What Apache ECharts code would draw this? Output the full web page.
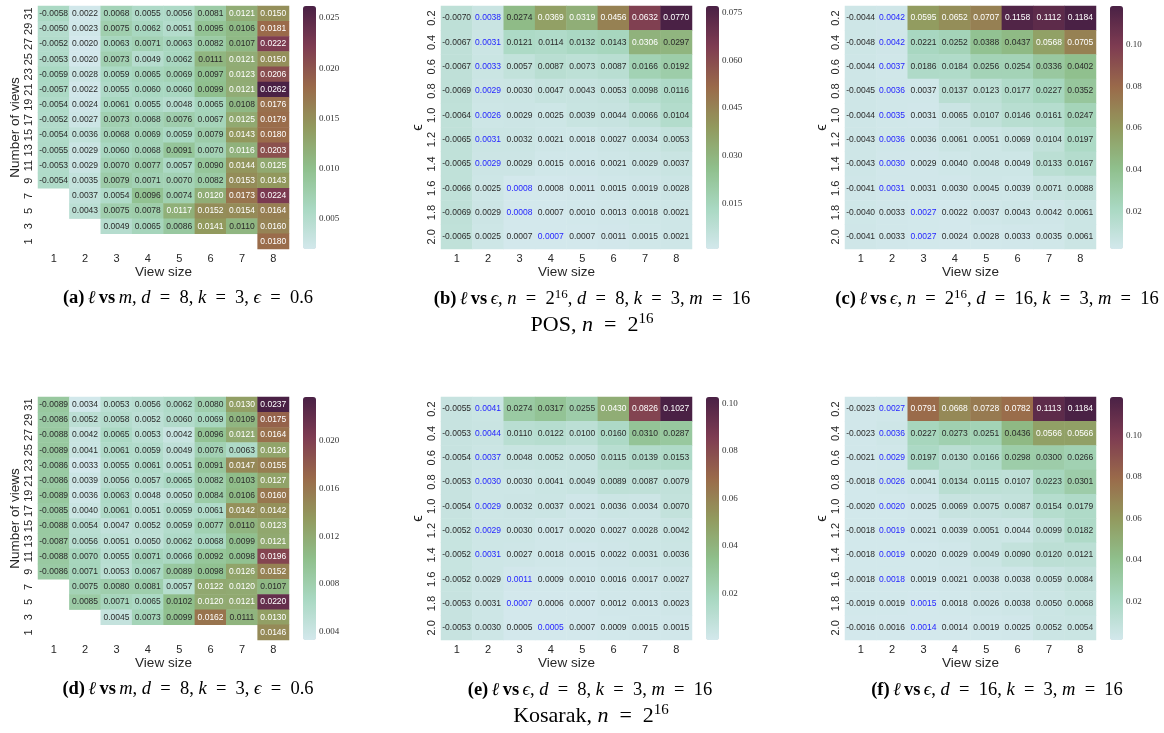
<!DOCTYPE html>
<html>
<head>
<meta charset="utf-8">
<script src="https://cdn.jsdelivr.net/npm/echarts@6/dist/echarts.min.js"></script>
<style>
html, body { margin: 0; padding: 0; background: #fff; }
#chart { width: 1164px; height: 733px; }
</style>
</head>
<body>
<div id="chart"></div>
<script>
// 坐标轴刻度
var viewSizes = ['1', '2', '3', '4', '5', '6', '7', '8'];
var viewCounts = ['31', '29', '27', '25', '23', '21', '19', '17', '15', '13', '11', '9', '7', '5', '3', '1'];
var epsValues = ['0.2', '0.4', '0.6', '0.8', '1.0', '1.2', '1.4', '1.6', '1.8', '2.0'];

// POS: 行从上到下
var posViews = [
    [-0.0058, 0.0022, 0.0068, 0.0055, 0.0056, 0.0081, 0.0121, 0.0150],
    [-0.0050, 0.0023, 0.0075, 0.0062, 0.0051, 0.0095, 0.0106, 0.0181],
    [-0.0052, 0.0020, 0.0063, 0.0071, 0.0063, 0.0082, 0.0107, 0.0222],
    [-0.0053, 0.0020, 0.0073, 0.0049, 0.0062, 0.0111, 0.0121, 0.0150],
    [-0.0059, 0.0028, 0.0059, 0.0065, 0.0069, 0.0097, 0.0123, 0.0206],
    [-0.0057, 0.0022, 0.0055, 0.0060, 0.0060, 0.0099, 0.0121, 0.0262],
    [-0.0054, 0.0024, 0.0061, 0.0055, 0.0048, 0.0065, 0.0108, 0.0176],
    [-0.0052, 0.0027, 0.0073, 0.0068, 0.0076, 0.0067, 0.0125, 0.0179],
    [-0.0054, 0.0036, 0.0068, 0.0069, 0.0059, 0.0079, 0.0143, 0.0180],
    [-0.0055, 0.0029, 0.0060, 0.0068, 0.0091, 0.0070, 0.0116, 0.0203],
    [-0.0053, 0.0029, 0.0070, 0.0077, 0.0057, 0.0090, 0.0144, 0.0125],
    [-0.0054, 0.0035, 0.0079, 0.0071, 0.0070, 0.0082, 0.0153, 0.0143],
    [null, 0.0037, 0.0054, 0.0096, 0.0074, 0.0120, 0.0173, 0.0224],
    [null, 0.0043, 0.0075, 0.0078, 0.0117, 0.0152, 0.0154, 0.0164],
    [null, null, 0.0049, 0.0065, 0.0086, 0.0141, 0.0110, 0.0160],
    [null, null, null, null, null, null, null, 0.0180]
];
var posEpsD8 = [
    [-0.0070, 0.0038, 0.0274, 0.0369, 0.0319, 0.0456, 0.0632, 0.0770],
    [-0.0067, 0.0031, 0.0121, 0.0114, 0.0132, 0.0143, 0.0306, 0.0297],
    [-0.0067, 0.0033, 0.0057, 0.0087, 0.0073, 0.0087, 0.0166, 0.0192],
    [-0.0069, 0.0029, 0.0030, 0.0047, 0.0043, 0.0053, 0.0098, 0.0116],
    [-0.0064, 0.0026, 0.0029, 0.0025, 0.0039, 0.0044, 0.0066, 0.0104],
    [-0.0065, 0.0031, 0.0032, 0.0021, 0.0018, 0.0027, 0.0034, 0.0053],
    [-0.0065, 0.0029, 0.0029, 0.0015, 0.0016, 0.0021, 0.0029, 0.0037],
    [-0.0066, 0.0025, 0.0008, 0.0008, 0.0011, 0.0015, 0.0019, 0.0028],
    [-0.0069, 0.0029, 0.0008, 0.0007, 0.0010, 0.0013, 0.0018, 0.0021],
    [-0.0065, 0.0025, 0.0007, 0.0007, 0.0007, 0.0011, 0.0015, 0.0021]
];
var posEpsD8Blue = [1, 1, 1, 1, 1, 1, 1, 2, 2, 3];
var posEpsD16 = [
    [-0.0044, 0.0042, 0.0595, 0.0652, 0.0707, 0.1158, 0.1112, 0.1184],
    [-0.0048, 0.0042, 0.0221, 0.0252, 0.0388, 0.0437, 0.0568, 0.0705],
    [-0.0044, 0.0037, 0.0186, 0.0184, 0.0256, 0.0254, 0.0336, 0.0402],
    [-0.0045, 0.0036, 0.0037, 0.0137, 0.0123, 0.0177, 0.0227, 0.0352],
    [-0.0044, 0.0035, 0.0031, 0.0065, 0.0107, 0.0146, 0.0161, 0.0247],
    [-0.0043, 0.0036, 0.0036, 0.0061, 0.0051, 0.0069, 0.0104, 0.0197],
    [-0.0043, 0.0030, 0.0029, 0.0040, 0.0048, 0.0049, 0.0133, 0.0167],
    [-0.0041, 0.0031, 0.0031, 0.0030, 0.0045, 0.0039, 0.0071, 0.0088],
    [-0.0040, 0.0033, 0.0027, 0.0022, 0.0037, 0.0043, 0.0042, 0.0061],
    [-0.0041, 0.0033, 0.0027, 0.0024, 0.0028, 0.0033, 0.0035, 0.0061]
];
var posEpsD16Blue = [1, 1, 1, 1, 1, 1, 1, 1, 2, 2];

// Kosarak
var kosViews = [
    [-0.0089, 0.0034, 0.0053, 0.0056, 0.0062, 0.0080, 0.0130, 0.0237],
    [-0.0086, 0.0052, 0.0058, 0.0052, 0.0060, 0.0069, 0.0109, 0.0175],
    [-0.0088, 0.0042, 0.0065, 0.0053, 0.0042, 0.0096, 0.0121, 0.0164],
    [-0.0089, 0.0041, 0.0061, 0.0059, 0.0049, 0.0076, 0.0063, 0.0126],
    [-0.0086, 0.0033, 0.0055, 0.0061, 0.0051, 0.0091, 0.0147, 0.0155],
    [-0.0086, 0.0039, 0.0056, 0.0057, 0.0065, 0.0082, 0.0103, 0.0127],
    [-0.0089, 0.0036, 0.0063, 0.0048, 0.0050, 0.0084, 0.0106, 0.0160],
    [-0.0085, 0.0040, 0.0061, 0.0051, 0.0059, 0.0061, 0.0142, 0.0142],
    [-0.0088, 0.0054, 0.0047, 0.0052, 0.0059, 0.0077, 0.0110, 0.0123],
    [-0.0087, 0.0056, 0.0051, 0.0050, 0.0062, 0.0068, 0.0099, 0.0121],
    [-0.0088, 0.0070, 0.0055, 0.0071, 0.0066, 0.0092, 0.0098, 0.0196],
    [-0.0086, 0.0071, 0.0053, 0.0067, 0.0089, 0.0098, 0.0126, 0.0152],
    [null, 0.0075, 0.0080, 0.0081, 0.0057, 0.0122, 0.0120, 0.0107],
    [null, 0.0085, 0.0071, 0.0065, 0.0102, 0.0120, 0.0121, 0.0220],
    [null, null, 0.0045, 0.0073, 0.0099, 0.0162, 0.0111, 0.0130],
    [null, null, null, null, null, null, null, 0.0146]
];
var kosEpsD8 = [
    [-0.0055, 0.0041, 0.0274, 0.0317, 0.0255, 0.0430, 0.0826, 0.1027],
    [-0.0053, 0.0044, 0.0110, 0.0122, 0.0100, 0.0160, 0.0310, 0.0287],
    [-0.0054, 0.0037, 0.0048, 0.0052, 0.0050, 0.0115, 0.0139, 0.0153],
    [-0.0053, 0.0030, 0.0030, 0.0041, 0.0049, 0.0089, 0.0087, 0.0079],
    [-0.0054, 0.0029, 0.0032, 0.0037, 0.0021, 0.0036, 0.0034, 0.0070],
    [-0.0052, 0.0029, 0.0030, 0.0017, 0.0020, 0.0027, 0.0028, 0.0042],
    [-0.0052, 0.0031, 0.0027, 0.0018, 0.0015, 0.0022, 0.0031, 0.0036],
    [-0.0052, 0.0029, 0.0011, 0.0009, 0.0010, 0.0016, 0.0017, 0.0027],
    [-0.0053, 0.0031, 0.0007, 0.0006, 0.0007, 0.0012, 0.0013, 0.0023],
    [-0.0053, 0.0030, 0.0005, 0.0005, 0.0007, 0.0009, 0.0015, 0.0015]
];
var kosEpsD8Blue = [1, 1, 1, 1, 1, 1, 1, 2, 2, 3];
var kosEpsD16 = [
    [-0.0023, 0.0027, 0.0791, 0.0668, 0.0728, 0.0782, 0.1113, 0.1184],
    [-0.0023, 0.0036, 0.0227, 0.0273, 0.0251, 0.0436, 0.0566, 0.0566],
    [-0.0021, 0.0029, 0.0197, 0.0130, 0.0166, 0.0298, 0.0300, 0.0266],
    [-0.0018, 0.0026, 0.0041, 0.0134, 0.0115, 0.0107, 0.0223, 0.0301],
    [-0.0020, 0.0020, 0.0025, 0.0069, 0.0075, 0.0087, 0.0154, 0.0179],
    [-0.0018, 0.0019, 0.0021, 0.0039, 0.0051, 0.0044, 0.0099, 0.0182],
    [-0.0018, 0.0019, 0.0020, 0.0029, 0.0049, 0.0090, 0.0120, 0.0121],
    [-0.0018, 0.0018, 0.0019, 0.0021, 0.0038, 0.0038, 0.0059, 0.0084],
    [-0.0019, 0.0019, 0.0015, 0.0018, 0.0026, 0.0038, 0.0050, 0.0068],
    [-0.0016, 0.0016, 0.0014, 0.0014, 0.0019, 0.0025, 0.0052, 0.0054]
];
var kosEpsD16Blue = [1, 1, 1, 1, 1, 1, 1, 1, 2, 2];

// 色条刻度
var cbarA = ['0.005', '0.010', '0.015', '0.020', '0.025'];
var cbarB = ['0.015', '0.030', '0.045', '0.060', '0.075'];
var cbarC = ['0.02', '0.04', '0.06', '0.08', '0.10'];
var cbarD = ['0.004', '0.008', '0.012', '0.016', '0.020'];
var cbarE = ['0.02', '0.04', '0.06', '0.08', '0.10'];
var cbarF = ['0.02', '0.04', '0.06', '0.08', '0.10'];

var heatColors = ['#d3e8ec', '#a9d8c2', '#8fbf8c', '#929a5e', '#9a6a4a', '#7e3c52', '#4a2145'];

var SANS = 'Liberation Sans, Arial, sans-serif';
var SERIF = 'Liberation Serif, DejaVu Serif, serif';

var panels = [
    { rows: posViews, yLabels: viewCounts, yName: 'Number of views', blue: null, cbar: cbarA, col: 0, row: 0 },
    { rows: posEpsD8, yLabels: epsValues, yName: 'ϵ', blue: posEpsD8Blue, cbar: cbarB, col: 1, row: 0 },
    { rows: posEpsD16, yLabels: epsValues, yName: 'ϵ', blue: posEpsD16Blue, cbar: cbarC, col: 2, row: 0 },
    { rows: kosViews, yLabels: viewCounts, yName: 'Number of views', blue: null, cbar: cbarD, col: 0, row: 1 },
    { rows: kosEpsD8, yLabels: epsValues, yName: 'ϵ', blue: kosEpsD8Blue, cbar: cbarE, col: 1, row: 1 },
    { rows: kosEpsD16, yLabels: epsValues, yName: 'ϵ', blue: kosEpsD16Blue, cbar: cbarF, col: 2, row: 1 }
];

var colLeft = [38, 441, 845];
var rowTop = [6, 397];
var mapW = 251, mapH = 243, barGap = 14, barW = 13;

var heatGrids = [], barGrids = [], heatX = [], heatY = [], barX = [], barY = [], series = [], visualMaps = [];

panels.forEach(function (p, i) {
    var L = colLeft[p.col], T = rowTop[p.row];
    var lo = Infinity, hi = -Infinity;
    p.rows.forEach(function (r) {
        r.forEach(function (v) {
            if (v === null) return;
            lo = Math.min(lo, Math.abs(v));
            hi = Math.max(hi, Math.abs(v));
        });
    });

    var items = [];
    p.rows.forEach(function (r, ri) {
        r.forEach(function (v, ci) {
            if (v === null) return;
            var a = Math.abs(v);
            var t = (a - lo) / (hi - lo);
            var c = t > 0.39 ? '#ffffff' : '#2b2b2b';
            if (p.blue && p.blue[ri] === ci) c = '#2525ff';
            items.push({ value: [ci, ri, a, v], label: { color: c } });
        });
    });

    heatGrids.push({ left: L, top: T, width: mapW, height: mapH });
    barGrids.push({ left: L + mapW + barGap, top: T, width: barW, height: mapH });

    heatX.push({
        type: 'category', gridIndex: i, data: viewSizes,
        name: 'View size', nameLocation: 'middle', nameGap: 14,
        nameTextStyle: { fontSize: 13.5, color: '#262626', fontFamily: SANS },
        axisLine: { show: false },
        axisTick: { alignWithLabel: true, length: 3, lineStyle: { color: '#333' } },
        axisLabel: { fontSize: 11, color: '#262626', fontFamily: SANS, margin: 4 },
        splitLine: { show: false }
    });
    heatY.push({
        type: 'category', gridIndex: i, data: p.yLabels, inverse: true,
        name: p.yName, nameLocation: 'middle', nameGap: p.yName === 'ϵ' ? 14 : 8,
        nameTextStyle: { fontSize: p.yName === 'ϵ' ? 15 : 13.5, color: '#262626', fontFamily: SANS },
        axisLine: { show: false },
        axisTick: { alignWithLabel: true, interval: 0, length: 3, lineStyle: { color: '#333' } },
        axisLabel: { interval: 0, rotate: 90, fontSize: 11, color: '#262626', fontFamily: SANS, margin: 4 },
        splitLine: { show: false }
    });

    var tickVals = p.cbar.map(parseFloat);
    barX.push({ type: 'value', gridIndex: 6 + i, show: false });
    barY.push({
        type: 'value', gridIndex: 6 + i, position: 'right', min: lo, max: hi,
        axisLine: { show: false },
        splitLine: { show: false },
        axisTick: { show: true, length: 3, customValues: tickVals, lineStyle: { color: '#333' } },
        axisLabel: {
            customValues: tickVals, fontSize: 9, color: '#333', fontFamily: SERIF, margin: 3,
            formatter: function (v) {
                for (var k = 0; k < tickVals.length; k++) {
                    if (Math.abs(tickVals[k] - v) < 1e-9) return p.cbar[k];
                }
                return '';
            }
        }
    });

    series.push({
        type: 'heatmap', xAxisIndex: i, yAxisIndex: i, data: items,
        label: {
            show: true, fontSize: 8.5, fontFamily: SANS,
            formatter: function (q) { return q.value[3].toFixed(4); }
        },
        emphasis: { disabled: true }
    });

    visualMaps.push({
        type: 'continuous', seriesIndex: i, dimension: 2, min: lo, max: hi,
        inRange: { color: heatColors },
        left: L + mapW + barGap, top: T, itemWidth: barW, itemHeight: mapH,
        calculable: false, hoverLink: false, padding: 0
    });
});

// 图注 (公式里 "=" 两边用较宽的空格)
var capRich = {
    b: { fontFamily: SERIF, fontSize: 18.5, fontWeight: 'bold', color: '#111' },
    i: { fontFamily: SERIF, fontSize: 18.5, fontStyle: 'italic', color: '#111' },
    n: { fontFamily: SERIF, fontSize: 18.5, color: '#111' },
    s: { fontFamily: SERIF, fontSize: 13, color: '#111', verticalAlign: 'top', lineHeight: 22 },
    bi: { fontFamily: SERIF, fontSize: 22, fontStyle: 'italic', color: '#111' },
    bn: { fontFamily: SERIF, fontSize: 22, color: '#111' },
    bs: { fontFamily: SERIF, fontSize: 15, color: '#111', verticalAlign: 'top', lineHeight: 26 }
};
function caption(x, y, text) {
    return { type: 'text', x: x, y: y, style: { text: text, rich: capRich, align: 'center', verticalAlign: 'middle' } };
}
var EQ = '\u2002=\u2002';

var captions = [
    caption(188, 298, '{b|(a)} {i|ℓ} {b|vs} {i|m}{n|, }{i|d}{n|' + EQ + '8, }{i|k}{n|' + EQ + '3, }{i|ϵ}{n|' + EQ + '0.6}'),
    caption(592, 299, '{b|(b)} {i|ℓ} {b|vs} {i|ϵ}{n|, }{i|n}{n|' + EQ + '2}{s|16}{n|, }{i|d}{n|' + EQ + '8, }{i|k}{n|' + EQ + '3, }{i|m}{n|' + EQ + '16}'),
    caption(997, 299, '{b|(c)} {i|ℓ} {b|vs} {i|ϵ}{n|, }{i|n}{n|' + EQ + '2}{s|16}{n|, }{i|d}{n|' + EQ + '16, }{i|k}{n|' + EQ + '3, }{i|m}{n|' + EQ + '16}'),
    caption(592, 325, '{bn|POS, }{bi|n}{bn|' + EQ + '2}{bs|16}'),
    caption(188, 689, '{b|(d)} {i|ℓ} {b|vs} {i|m}{n|, }{i|d}{n|' + EQ + '8, }{i|k}{n|' + EQ + '3, }{i|ϵ}{n|' + EQ + '0.6}'),
    caption(590, 690, '{b|(e)} {i|ℓ} {b|vs} {i|ϵ}{n|, }{i|d}{n|' + EQ + '8, }{i|k}{n|' + EQ + '3, }{i|m}{n|' + EQ + '16}'),
    caption(997, 690, '{b|(f)} {i|ℓ} {b|vs} {i|ϵ}{n|, }{i|d}{n|' + EQ + '16, }{i|k}{n|' + EQ + '3, }{i|m}{n|' + EQ + '16}'),
    caption(591, 716, '{bn|Kosarak, }{bi|n}{bn|' + EQ + '2}{bs|16}')
];

var mycharts = echarts.init(document.getElementById('chart'));
mycharts.setOption({
    animation: false,
    grid: heatGrids.concat(barGrids),
    xAxis: heatX.concat(barX),
    yAxis: heatY.concat(barY),
    visualMap: visualMaps,
    series: series,
    graphic: captions
});
window.addEventListener('resize', function () {
    mycharts.resize();
});
</script>
</body>
</html>
